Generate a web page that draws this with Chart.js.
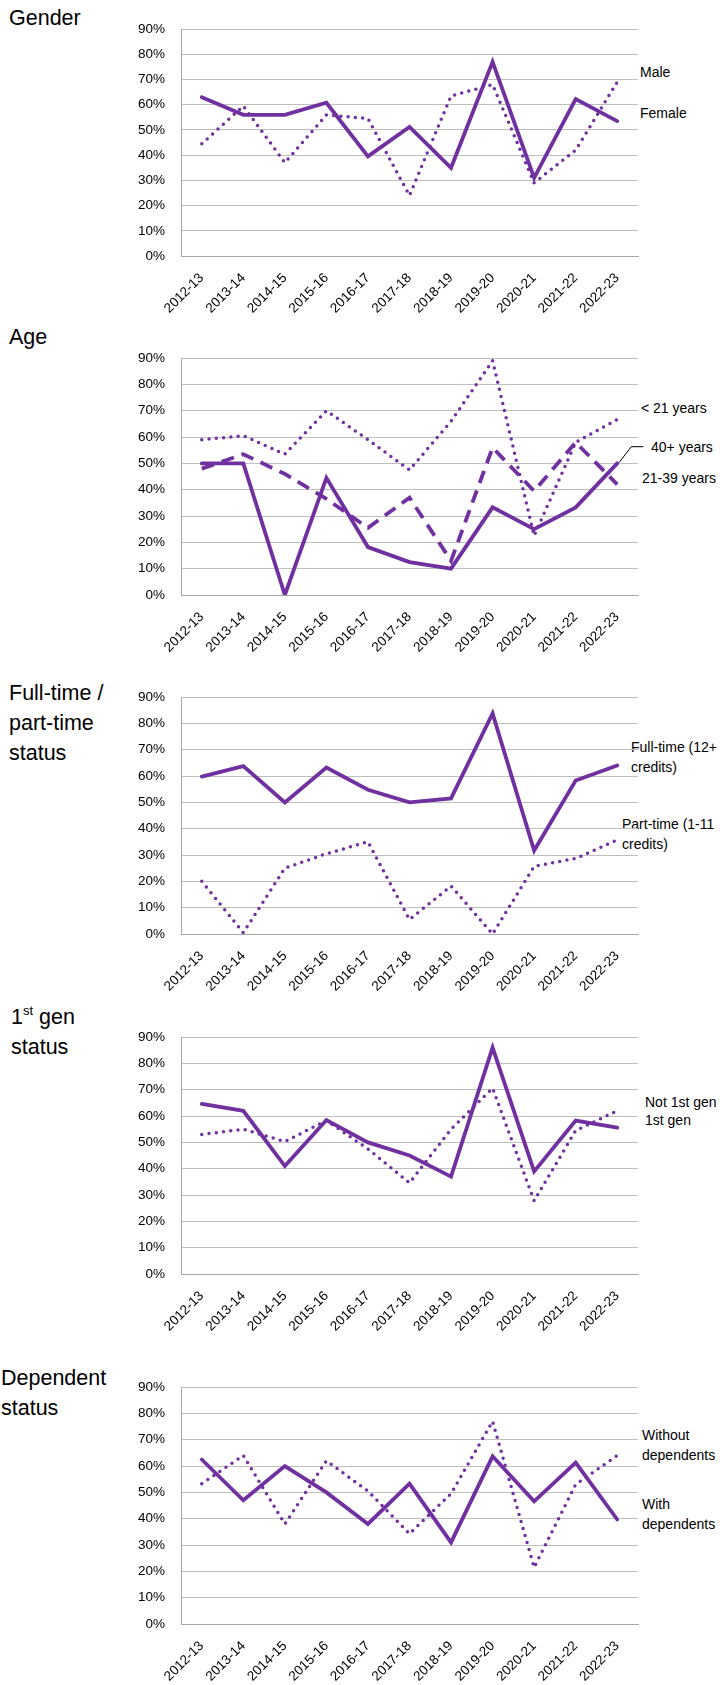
<!DOCTYPE html>
<html>
<head>
<meta charset="utf-8">
<script src="https://cdn.jsdelivr.net/npm/chart.js@4.4.1/dist/chart.umd.min.js"></script>
<style>
  html, body { margin: 0; padding: 0; background: #fff; }
  body { width: 720px; height: 1685px; position: relative; overflow: hidden;
         font-family: 'Liberation Sans', Arial, sans-serif; color: #000; }
  canvas { position: absolute; left: 0; }
  .title { position: absolute; font-size: 21.5px; line-height: 30px; white-space: nowrap; }
  .title sup { font-size: 13px; vertical-align: 9px; line-height: 0; }
  .lbl { position: absolute; font-size: 14px; line-height: 20px; white-space: nowrap; }
</style>
</head>
<body>

<div class="title" style="left:9px; top:3px;">Gender</div>
<div class="title" style="left:9px; top:322px;">Age</div>
<div class="title" style="left:9px; top:678px;">Full-time /<br>part-time<br>status</div>
<div class="title" style="left:11px; top:1002px;">1<sup>st</sup> gen<br>status</div>
<div class="title" style="left:1px; top:1363px;">Dependent<br>status</div>

<div class="lbl" style="left:640px; top:62px;">Male</div>
<div class="lbl" style="left:640px; top:103px;">Female</div>

<div class="lbl" style="left:641px; top:398px;">&lt; 21 years</div>
<div class="lbl" style="left:651px; top:437px;">40+ years</div>
<div class="lbl" style="left:642px; top:468px;">21-39 years</div>

<div class="lbl" style="left:631px; top:737px;">Full-time (12+<br>credits)</div>
<div class="lbl" style="left:622px; top:814px;">Part-time (1-11<br>credits)</div>

<div class="lbl" style="left:645px; top:1092px;">Not 1st gen</div>
<div class="lbl" style="left:645px; top:1110px;">1st gen</div>

<div class="lbl" style="left:642px; top:1425px;">Without<br>dependents</div>
<div class="lbl" style="left:642px; top:1494px;">With<br>dependents</div>

<script>
// categories
const years = ['2012-13', '2013-14', '2014-15', '2015-16', '2016-17', '2017-18',
               '2018-19', '2019-20', '2020-21', '2021-22', '2022-23'];

// y axis (percent)
const yMin = 0;
const yMax = 90;
const yStep = 10;

// Gender
const genderMale   = [44.5, 59.5, 37, 56, 54.5, 24, 63.5, 68, 29, 42, 69];
const genderFemale = [63, 56, 56, 60.8, 39.5, 51.2, 35, 77, 31, 62.2, 53.5];

// Age
const ageUnder21 = [59, 60.5, 53.5, 70, 59, 47.5, 66, 89, 22.5, 58, 66.7];
const age21to39  = [48, 53.5, 46, 36.5, 25.5, 37, 13, 56, 39.5, 58, 42];
const age40plus  = [50, 50, 0, 44.5, 18.2, 12.5, 10, 33.3, 25, 33.3, 50];

// Full-time / part-time
const fullTime = [59.8, 63.8, 50, 63.2, 54.8, 50, 51.5, 83.8, 31.7, 58.3, 64];
const partTime = [20, 0.5, 25, 30.5, 35, 5.5, 18.2, 0, 25.7, 28.7, 35.7];

// 1st gen
const notFirstGen = [53, 55, 50.3, 58.3, 47.5, 34.6, 55, 70.6, 27.8, 54.5, 62];
const firstGen    = [64.6, 62, 41, 58.5, 50, 45, 37, 86, 39, 58.3, 55.6];

// Dependents
const withoutDependents = [53.3, 64, 38, 62, 50.5, 34.3, 49.5, 77, 21.5, 53, 64];
const withDependents    = [62.5, 47, 60, 50, 38, 53.3, 31, 63.7, 46.6, 61.3, 39.7];

const PURPLE = '#7030A0';
const FONT = "'Liberation Sans', Arial, sans-serif";
const PAD_TOP = 10;
const X_AXIS_H = 75;
const PLOT_LEFT = 181;
const PLOT_RIGHT = 638;

function solid(data) {
    return { data: data, borderColor: PURPLE, borderWidth: 3.8, borderCapStyle: 'round', borderJoinStyle: 'miter' };
}
function dotted(data) {
    return { data: data, borderColor: PURPLE, borderWidth: 3.5, borderDash: [0, 7.3], borderCapStyle: 'round' };
}
function dashed(data) {
    return { data: data, borderColor: PURPLE, borderWidth: 3.8, borderDash: [13, 8], borderCapStyle: 'butt' };
}

// leader line from the last 40+ point to its label
const leaderLine = {
    id: 'leaderLine',
    afterDraw(chart, args, opts) {
        if (!opts || opts.dataset === undefined) return;
        const meta = chart.getDatasetMeta(opts.dataset);
        const p = meta.data[meta.data.length - 1];
        const ctx = chart.ctx;
        ctx.save();
        ctx.strokeStyle = '#000';
        ctx.lineWidth = 1;
        ctx.beginPath();
        ctx.moveTo(p.x + 2, p.y - 1);
        ctx.lineTo(p.x + 14, opts.labelY);
        ctx.lineTo(p.x + 26, opts.labelY);
        ctx.stroke();
        ctx.restore();
    }
};

const panels = [
    { top: 15,    bottom: 256,  datasets: [solid(genderFemale), dotted(genderMale)] },
    { top: 344.3, bottom: 595,  datasets: [solid(age40plus), dashed(age21to39), dotted(ageUnder21)],
      leader: { dataset: 0, pageY: 447 } },
    { top: 682.7, bottom: 933.3, datasets: [solid(fullTime), dotted(partTime)] },
    { top: 1023.3, bottom: 1274, datasets: [solid(firstGen), dotted(notFirstGen)] },
    { top: 1373.3, bottom: 1624, datasets: [solid(withDependents), dotted(withoutDependents)] }
];

panels.forEach(function(panel) {
    const canvas = document.createElement('canvas');
    const canvasTop = panel.top - PAD_TOP;
    canvas.width = 720;
    canvas.height = Math.round(panel.bottom - panel.top + PAD_TOP + X_AXIS_H);
    canvas.style.top = canvasTop + 'px';
    document.body.appendChild(canvas);

    const pluginOpts = { legend: { display: false }, tooltip: { enabled: false } };
    if (panel.leader) {
        pluginOpts.leaderLine = { dataset: panel.leader.dataset, labelY: panel.leader.pageY - canvasTop };
    }

    new Chart(canvas, {
        type: 'line',
        data: { labels: years, datasets: panel.datasets },
        plugins: panel.leader ? [leaderLine] : [],
        options: {
            responsive: false,
            animation: false,
            devicePixelRatio: 1,
            layout: { padding: { top: PAD_TOP, right: 720 - PLOT_RIGHT, bottom: 0, left: 0 } },
            elements: { point: { radius: 0 }, line: { tension: 0, fill: false } },
            plugins: pluginOpts,
            scales: {
                x: {
                    offset: true,
                    grid: { display: false, drawTicks: false },
                    border: { display: true, color: '#A6A6A6', width: 1 },
                    ticks: {
                        autoSkip: false,
                        maxRotation: 45,
                        minRotation: 45,
                        padding: 14,
                        color: '#000',
                        font: { family: FONT, size: 13.5 }
                    },
                    afterFit: function(scale) { scale.height = X_AXIS_H; }
                },
                y: {
                    min: yMin,
                    max: yMax,
                    grid: { color: '#BFBFBF', lineWidth: 1, drawTicks: false },
                    border: { display: true, color: '#A6A6A6', width: 1 },
                    ticks: {
                        stepSize: yStep,
                        padding: 16,
                        color: '#000',
                        font: { family: FONT, size: 13.5 },
                        callback: function(value) { return value + '%'; }
                    },
                    afterFit: function(scale) { scale.width = PLOT_LEFT; }
                }
            }
        }
    });
});
</script>
</body>
</html>
